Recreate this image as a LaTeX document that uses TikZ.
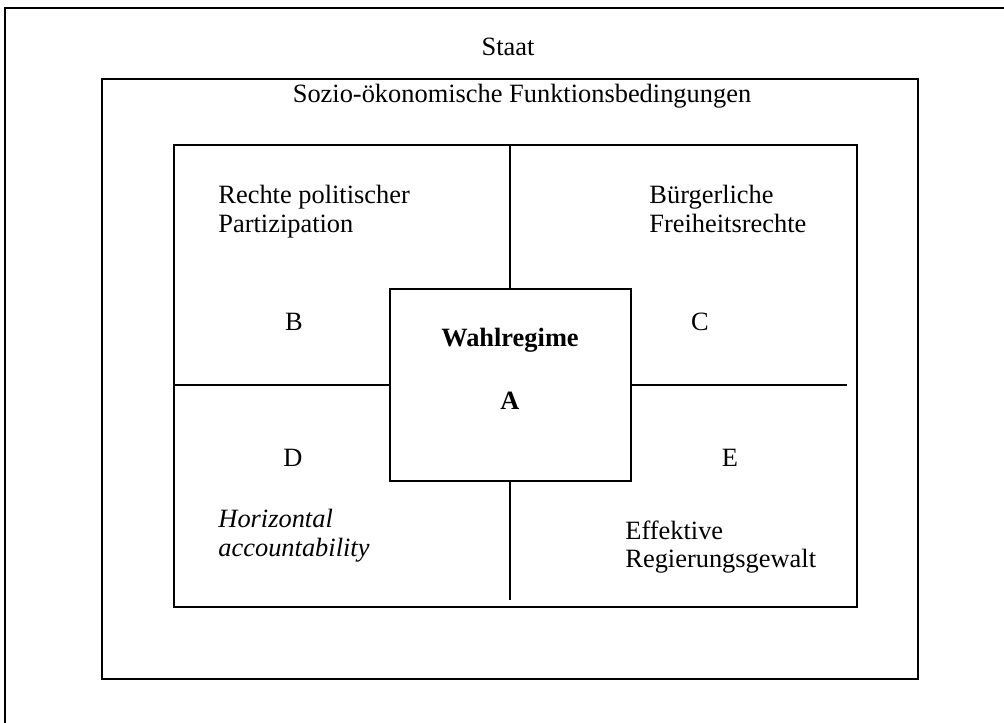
\documentclass[tikz,border=0pt,12pt]{standalone}
\usepackage{fontspec}
\setmainfont{Liberation Serif}
\usetikzlibrary{positioning}

\begin{document}
\begin{tikzpicture}[x=0.4545pt,y=-0.4545pt]
    % --- Frame edges (in pixels of the page) ---
    \def\OuterL{5}      % left edge of "Staat"
    \def\OuterT{8}      % top edge of "Staat"
    \def\MidL{102}      % socio-economic box
    \def\MidT{79}
    \def\MidR{918}
    \def\MidB{679}
    \def\InL{174}       % the four fields
    \def\InT{145}
    \def\InR{857}
    \def\InB{607}
    \def\CoreL{390}     % the election regime box
    \def\CoreT{289}
    \def\CoreR{631}
    \def\CoreB{481}

    % --- Derived positions ---
    \pgfmathsetmacro{\SplitX}{510}
    \pgfmathsetmacro{\SplitY}{385}

    % --- Styles ---
    \tikzset{
        frame line/.style={line width=1.1pt},
        part line/.style={line width=0.9pt},
        field text/.style={font=\fontsize{12}{13}\selectfont, inner sep=0pt},
        block text/.style={field text, align=left, anchor=north west}
    }

    \useasboundingbox (0,0) rectangle (1004,723);

    % =========================================================
    % 1) FRAMES
    % =========================================================
    % outer frame (runs off the page right and below)
    \draw[frame line] (\OuterL,723) -- (\OuterL,\OuterT) -- (1004,\OuterT);

    % socio-economic frame
    \draw[frame line] (\MidL,\MidT) rectangle (\MidR,\MidB);

    % four fields
    \draw[frame line] (\InL,\InT) rectangle (\InR,\InB);

    % core box
    \draw[part line] (\CoreL,\CoreT) rectangle (\CoreR,\CoreB);

    % =========================================================
    % 2) DIVIDERS
    % =========================================================
    \draw[part line] (\SplitX,\InT) -- (\SplitX,\CoreT);
    \draw[part line] (\SplitX,\CoreB) -- (\SplitX,600);
    \draw[part line] (\InL,\SplitY) -- (\CoreL,\SplitY);
    \draw[part line] (\CoreR,\SplitY) -- (847,\SplitY);

    % =========================================================
    % 3) TEXT
    % =========================================================
    \node[field text, anchor=base] (staat) at (508,56) {Staat};
    \node[field text, anchor=base] (sozio) at (522,103) {Sozio-ökonomische Funktionsbedingungen};

    % election regime
    \node[field text, anchor=base, font=\fontsize{12}{13}\selectfont\bfseries] (wahl) at (510,347) {Wahlregime};
    \node[field text, anchor=base, font=\fontsize{12}{13}\selectfont\bfseries] (a) at (510,410) {A};

    % upper fields
    \node[block text] (partizipation) at (218,185) {Rechte politischer\\Partizipation};
    \node[field text, anchor=base] (b) at (294,331) {B};
    \node[block text] (freiheit) at (649,185) {Bürgerliche\\Freiheitsrechte};
    \node[field text, anchor=base] (c) at (700,331) {C};

    % lower fields
    \node[field text, anchor=base] (d) at (293,467) {D};
    \node[block text, font=\fontsize{12}{13}\selectfont\itshape] (horizontal) at (218,509) {Horizontal\\accountability};
    \node[field text, anchor=base] (e) at (730,467) {E};
    \node[block text] (regierung) at (625,520) {Effektive\\Regierungsgewalt};

\end{tikzpicture}
\end{document}
